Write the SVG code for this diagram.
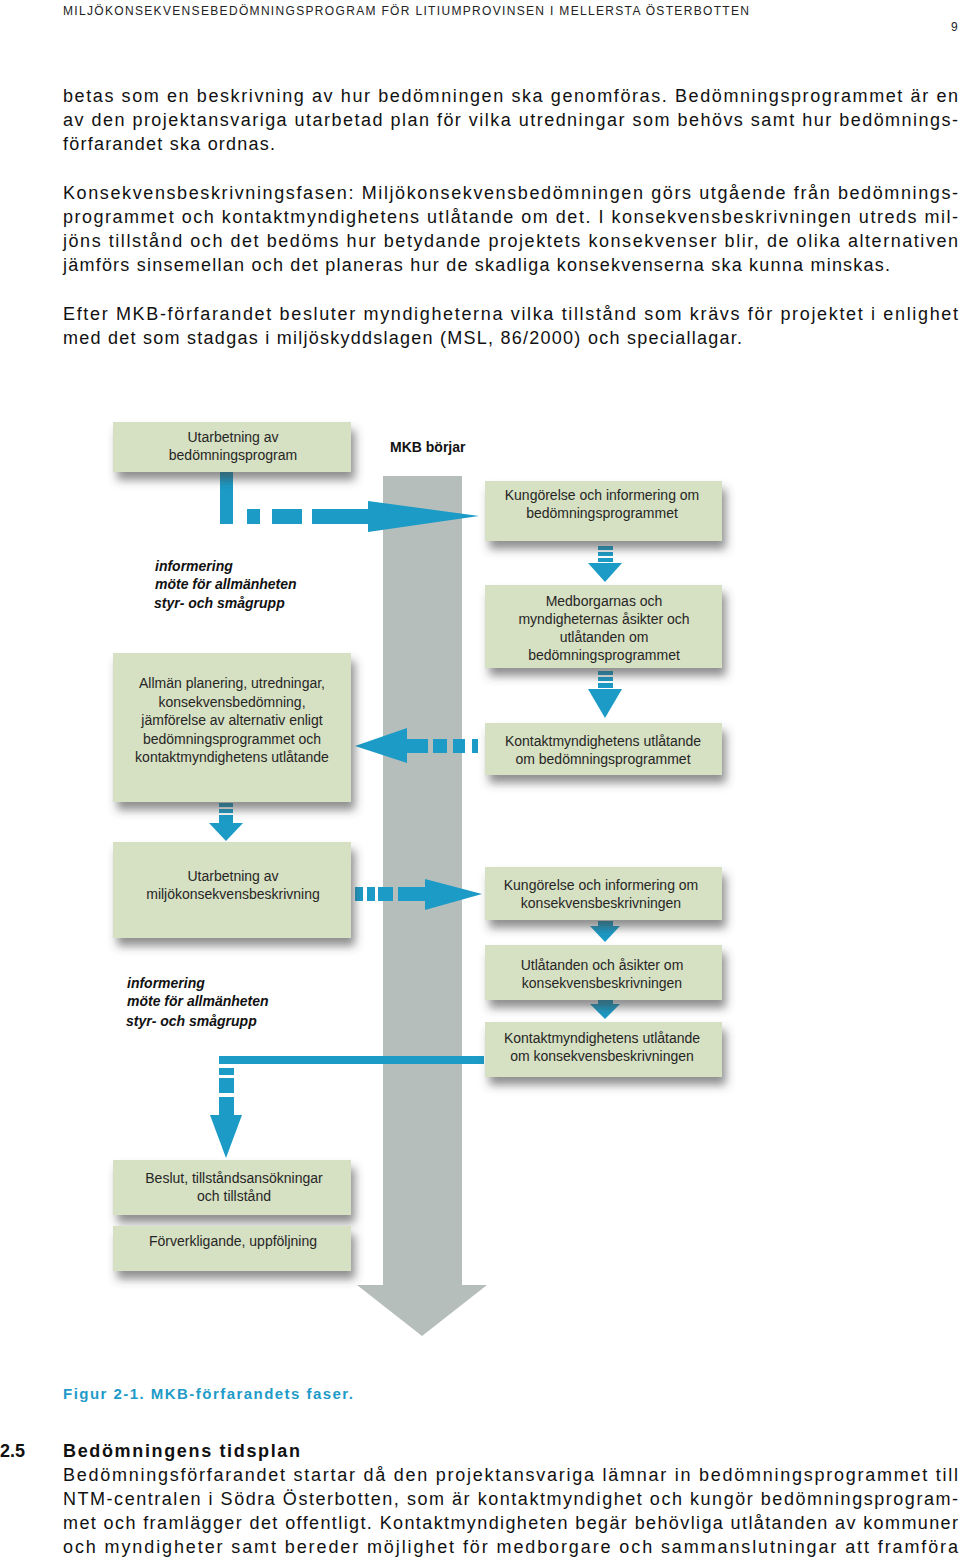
<svg xmlns="http://www.w3.org/2000/svg" width="960" height="1560" viewBox="0 0 960 1560">
<defs>
<style>
.body{font-family:"Liberation Sans",Arial,sans-serif;font-size:18px;fill:#111;}
.hdr{font-family:"Liberation Sans",Arial,sans-serif;font-size:12px;fill:#222;}
.box{fill:#d6e0c2;}
.bt{font-family:"Liberation Sans",Arial,sans-serif;font-size:14px;fill:#262626;text-anchor:middle;}
.it{font-family:"Liberation Sans",Arial,sans-serif;font-size:14px;font-weight:bold;font-style:italic;fill:#111;}
.blue{fill:#1b9bc6;}
.cap{font-family:"Liberation Sans",Arial,sans-serif;font-size:15px;font-weight:bold;fill:#1e9bc8;}
.h2{font-family:"Liberation Sans",Arial,sans-serif;font-size:18px;font-weight:bold;fill:#111;}
</style>
<filter id="sh" x="-10%" y="-20%" width="125%" height="170%">
<feDropShadow dx="4" dy="8" stdDeviation="5" flood-color="#444" flood-opacity="0.6"/>
</filter>
</defs>
<rect width="960" height="1560" fill="#fff"/>

<g id="page-text">
<text class="hdr" x="63" y="15" textLength="686" lengthAdjust="spacing">MILJÖKONSEKVENSEBEDÖMNINGSPROGRAM FÖR LITIUMPROVINSEN I MELLERSTA ÖSTERBOTTEN</text>
<text class="hdr" x="951" y="31">9</text>
<text class="body" x="63" y="102" textLength="895" lengthAdjust="spacing">betas som en beskrivning av hur bedömningen ska genomföras. Bedömningsprogrammet är en</text>
<text class="body" x="63" y="126" textLength="895" lengthAdjust="spacing">av den projektansvariga utarbetad plan för vilka utredningar som behövs samt hur bedömnings-</text>
<text class="body" x="63" y="150" textLength="212" lengthAdjust="spacing">förfarandet ska ordnas.</text>
<text class="body" x="63" y="199" textLength="895" lengthAdjust="spacing">Konsekvensbeskrivningsfasen: Miljökonsekvensbedömningen görs utgående från bedömnings-</text>
<text class="body" x="63" y="223" textLength="895" lengthAdjust="spacing">programmet och kontaktmyndighetens utlåtande om det. I konsekvensbeskrivningen utreds mil-</text>
<text class="body" x="63" y="247" textLength="895" lengthAdjust="spacing">jöns tillstånd och det bedöms hur betydande projektets konsekvenser blir, de olika alternativen</text>
<text class="body" x="63" y="271" textLength="827" lengthAdjust="spacing">jämförs sinsemellan och det planeras hur de skadliga konsekvenserna ska kunna minskas.</text>
<text class="body" x="63" y="320" textLength="895" lengthAdjust="spacing">Efter MKB-förfarandet besluter myndigheterna vilka tillstånd som krävs för projektet i enlighet</text>
<text class="body" x="63" y="344" textLength="679" lengthAdjust="spacing">med det som stadgas i miljöskyddslagen (MSL, 86/2000) och speciallagar.</text>
<text class="cap" x="63" y="1399" textLength="290" lengthAdjust="spacing">Figur 2-1. MKB-förfarandets faser.</text>
<text class="h2" x="0" y="1457">2.5</text>
<text class="h2" x="63" y="1457" textLength="237" lengthAdjust="spacing">Bedömningens tidsplan</text>
<text class="body" x="63" y="1481" textLength="895" lengthAdjust="spacing">Bedömningsförfarandet startar då den projektansvariga lämnar in bedömningsprogrammet till</text>
<text class="body" x="63" y="1505" textLength="895" lengthAdjust="spacing">NTM-centralen i Södra Österbotten, som är kontaktmyndighet och kungör bedömningsprogram-</text>
<text class="body" x="63" y="1529" textLength="895" lengthAdjust="spacing">met och framlägger det offentligt. Kontaktmyndigheten begär behövliga utlåtanden av kommuner</text>
<text class="body" x="63" y="1553" textLength="895" lengthAdjust="spacing">och myndigheter samt bereder möjlighet för medborgare och sammanslutningar att framföra</text>
</g>

<g id="timeline">
<polygon points="383,476 462,476 462,1285 487,1285 422,1336 357,1285 383,1285" fill="#b6bebb"/>
<text x="390" y="452" font-family="Liberation Sans, Arial, sans-serif" font-size="14" font-weight="bold" fill="#111">MKB börjar</text>
</g>

<g id="connectors">
<rect class="blue" x="220" y="472" width="13" height="52"/>
<rect class="blue" x="247" y="509" width="13" height="15"/>
<rect class="blue" x="272" y="509" width="30" height="15"/>
<polygon class="blue" points="312,509 368,509 368,501 479,516 368,532 368,524 312,524"/>
<rect class="blue" x="598" y="546" width="15" height="4"/>
<rect class="blue" x="598" y="552" width="15" height="4"/>
<rect class="blue" x="598" y="558" width="15" height="4"/>
<polygon class="blue" points="588,563 622,563 605,582"/>
<rect class="blue" x="598" y="671" width="15" height="4"/>
<rect class="blue" x="598" y="677" width="15" height="4"/>
<rect class="blue" x="598" y="683" width="15" height="5"/>
<polygon class="blue" points="588,689 622,689 605,718"/>
<polygon class="blue" points="355,746 407,728 407,739 428,739 428,753 407,753 407,763"/>
<rect class="blue" x="433" y="739" width="14" height="14"/>
<rect class="blue" x="453" y="739" width="12" height="14"/>
<rect class="blue" x="472" y="739" width="6" height="14"/>
<rect class="blue" x="219" y="803" width="14" height="4"/>
<rect class="blue" x="219" y="809" width="14" height="4"/>
<rect class="blue" x="219" y="815" width="14" height="8"/>
<polygon class="blue" points="209,823 243,823 226,841"/>
<rect class="blue" x="355" y="887" width="8" height="14"/>
<rect class="blue" x="367" y="887" width="8" height="14"/>
<rect class="blue" x="378" y="887" width="15" height="14"/>
<polygon class="blue" points="398,887 425,887 425,879 482,894 425,910 425,901 398,901"/>
<rect class="blue" x="598" y="921" width="15" height="5"/>
<polygon class="blue" points="590,926 620,926 605,942"/>
<rect class="blue" x="598" y="1000" width="15" height="4"/>
<polygon class="blue" points="590,1004 620,1004 605,1019"/>
<rect class="blue" x="219" y="1056" width="265" height="8"/>
<rect class="blue" x="219" y="1068" width="15" height="7"/>
<rect class="blue" x="219" y="1078" width="15" height="15"/>
<rect class="blue" x="219" y="1097" width="15" height="18"/>
<polygon class="blue" points="210,1115 242,1115 226,1158"/>
</g>

<g id="box1"><rect class="box" filter="url(#sh)" x="113" y="422" width="238" height="50"/>
<text class="bt" x="233" y="442">Utarbetning av</text><text class="bt" x="233" y="460">bedömningsprogram</text></g>

<g id="note1">
<text class="it" x="155" y="571">informering</text>
<text class="it" x="155" y="589">möte för allmänheten</text>
<text class="it" x="154" y="608">styr-  och smågrupp</text>
</g>

<g id="box-l2"><rect class="box" filter="url(#sh)" x="113" y="653" width="238" height="149"/>
<text class="bt" x="232" y="688">Allmän planering, utredningar,</text>
<text class="bt" x="232" y="707">konsekvensbedömning,</text>
<text class="bt" x="232" y="725">jämförelse av alternativ enligt</text>
<text class="bt" x="232" y="744">bedömningsprogrammet och</text>
<text class="bt" x="232" y="762">kontaktmyndighetens utlåtande</text>
</g>

<g id="box-l3"><rect class="box" filter="url(#sh)" x="113" y="842" width="238" height="96"/>
<text class="bt" x="233" y="881">Utarbetning av</text>
<text class="bt" x="233" y="899">miljökonsekvensbeskrivning</text>
</g>

<g id="note2">
<text class="it" x="127" y="988">informering</text>
<text class="it" x="127" y="1006">möte för allmänheten</text>
<text class="it" x="126" y="1026">styr-  och smågrupp</text>
</g>

<g id="box-l4"><rect class="box" filter="url(#sh)" x="113" y="1160" width="238" height="55"/>
<text class="bt" x="234" y="1183">Beslut, tillståndsansökningar</text>
<text class="bt" x="234" y="1201">och tillstånd</text>
</g>

<g id="box-l5"><rect class="box" filter="url(#sh)" x="113" y="1226" width="238" height="45"/>
<text class="bt" x="233" y="1246">Förverkligande, uppföljning</text>
</g>

<g id="box-r1"><rect class="box" filter="url(#sh)" x="485" y="481" width="237" height="60"/>
<text class="bt" x="602" y="500">Kungörelse och informering om</text>
<text class="bt" x="602" y="518">bedömningsprogrammet</text>
</g>

<g id="box-r2"><rect class="box" filter="url(#sh)" x="485" y="585" width="237" height="83"/>
<text class="bt" x="604" y="606">Medborgarnas och</text>
<text class="bt" x="604" y="624">myndigheternas åsikter och</text>
<text class="bt" x="604" y="642">utlåtanden om</text>
<text class="bt" x="604" y="660">bedömningsprogrammet</text>
</g>

<g id="box-r3"><rect class="box" filter="url(#sh)" x="485" y="723" width="237" height="52"/>
<text class="bt" x="603" y="746">Kontaktmyndighetens utlåtande</text>
<text class="bt" x="603" y="764">om bedömningsprogrammet</text>
</g>

<g id="box-r4"><rect class="box" filter="url(#sh)" x="485" y="867" width="237" height="53"/>
<text class="bt" x="601" y="890">Kungörelse och informering om</text>
<text class="bt" x="601" y="908">konsekvensbeskrivningen</text>
</g>

<g id="box-r5"><rect class="box" filter="url(#sh)" x="485" y="945" width="237" height="55"/>
<text class="bt" x="602" y="970">Utlåtanden och åsikter om</text>
<text class="bt" x="602" y="988">konsekvensbeskrivningen</text>
</g>

<g id="box-r6"><rect class="box" filter="url(#sh)" x="485" y="1022" width="237" height="55"/>
<text class="bt" x="602" y="1043">Kontaktmyndighetens utlåtande</text>
<text class="bt" x="602" y="1061">om konsekvensbeskrivningen</text>
</g>
</svg>
